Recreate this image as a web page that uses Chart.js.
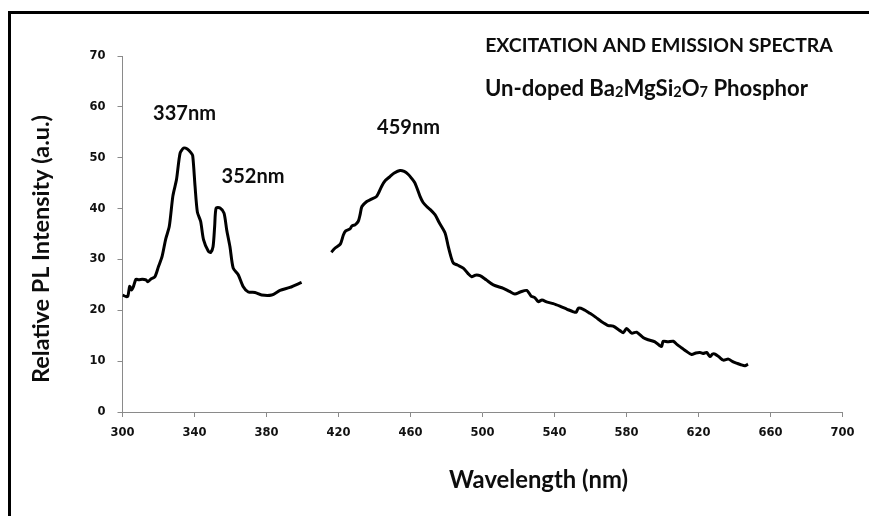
<!DOCTYPE html>
<html>
<head>
<meta charset="utf-8">
<script src="https://cdn.jsdelivr.net/npm/chart.js@4.4.1/dist/chart.umd.min.js"></script>
<style>
  html, body { margin: 0; padding: 0; background: #ffffff; }
  canvas { display: block; }
</style>
</head>
<body>
<canvas id="c" width="869" height="516"></canvas>
<script>
// ---- Data ----
const excitationWavelength = [300,302,303,304,305,306,307.5,309,311,313,314,316,318,320,322,324,326,328,330,332,334,336,338,339,340.3,341.6,343.4,345,347.7,349,350.3,351.2,352,354.2,356.4,357.9,359.7,361.5,364.3,367,369.9,373.6,377.3,382.9,387.5,393,399.5];
const excitationIntensity  = [23.0,22.7,22.8,24.7,24.0,24.6,26.1,26.0,26.1,26.0,25.6,26.2,26.6,28.6,30.6,34.0,36.5,42.5,45.7,50.9,51.9,51.7,51.0,50.4,44.4,39.3,37.5,33.9,31.6,31.4,32.5,36.5,40.1,40.1,39.1,35.8,32.5,28.3,27.0,24.7,23.6,23.5,23.0,23.0,23.9,24.5,25.5];

const emissionWavelength = [416,418,421,422.7,424,426.4,427.5,429.2,431,432,433,435.7,438,441.2,444,446,448.6,451,454.2,456.5,458.8,460.5,462.5,465.3,467,469,471,473.6,476,479.2,481,482.5,483.8,486,489.3,492,494,496,498.6,502,506,511.6,515,518,521,524.6,527,529,531,533,536,539.3,543,547,550.5,552,553.3,556,559.7,563,566,569.9,572.6,576.4,578.2,580,582.9,585.6,589.4,592,595.8,598.6,599.5,600.4,603,606,608,610.7,613,616.2,618.5,620.8,622.5,624.5,626.4,627.8,629.2,631.5,633.8,636.6,639,641.2,643.5,645.8,647.5];
const emissionIntensity  = [31.4,32.2,33.0,34.8,35.6,36.0,36.6,36.8,37.5,38.8,40.4,41.4,41.8,42.4,44.4,45.5,46.3,47.0,47.5,47.3,46.7,46.0,45.0,42.4,41.2,40.4,39.8,38.8,37.2,35.2,32.5,30.5,29.3,28.9,28.3,27.2,26.6,26.9,26.8,26.0,25.0,24.3,23.7,23.2,23.6,23.9,22.8,22.5,21.7,22.0,21.6,21.3,20.8,20.2,19.7,19.6,20.4,20.2,19.4,18.6,17.8,17.0,16.9,16.0,15.6,16.4,15.5,15.7,14.6,14.2,13.8,13.0,12.9,13.9,13.8,13.9,13.3,12.6,12.0,11.3,11.6,11.7,11.5,11.7,10.9,11.4,11.4,10.8,10.2,10.4,9.9,9.6,9.3,9.1,9.4];

const xTickValues = [300,340,380,420,460,500,540,580,620,660,700];
const yTickValues = [0,10,20,30,40,50,60,70];

const peakLabels = ["337nm", "352nm", "459nm"];
const titleText = "EXCITATION AND EMISSION SPECTRA";
const subtitleParts = [["Un-doped Ba", false], ["2", true], ["MgSi", false], ["2", true], ["O", false], ["7", true], [" Phosphor", false]];
const xTitle = "Wavelength (nm)";
const yTitle = "Relative PL Intensity (a.u.)";

function toPoints(xs, ys) { return xs.map((x, i) => ({ x: x, y: ys[i] })); }

const TEXT_FONT = "Lato, Carlito, 'Open Sans', sans-serif";

function fitText(ctx, text, targetW, baseSize) {
  ctx.font = "bold " + baseSize + "px " + TEXT_FONT;
  const w = ctx.measureText(text).width;
  const size = baseSize * targetW / w;
  ctx.font = "bold " + size.toFixed(2) + "px " + TEXT_FONT;
  return size;
}

const decorPlugin = {
  id: 'decor',
  beforeDraw(chart) {
    const ctx = chart.ctx;
    ctx.save();
    ctx.fillStyle = '#ffffff';
    ctx.fillRect(0, 0, chart.width, chart.height);
    ctx.restore();
  },
  afterDraw(chart) {
    const ctx = chart.ctx;
    ctx.save();
    // frame border (top and left)
    ctx.strokeStyle = '#000000';
    ctx.lineWidth = 3;
    ctx.beginPath();
    ctx.moveTo(9.5, 516);
    ctx.lineTo(9.5, 12.5);
    ctx.lineTo(869, 12.5);
    ctx.stroke();

    ctx.fillStyle = '#0d0d0d';
    ctx.textBaseline = 'middle';
    ctx.textAlign = 'center';

    // title
    fitText(ctx, titleText, 348, 16);
    ctx.fillText(titleText, 659, 46);

    // subtitle with subscripts
    const mainSize = 16, subSize = 10.5;
    let total = 0;
    subtitleParts.forEach(([t, sub]) => {
      ctx.font = "bold " + (sub ? subSize : mainSize) + "px " + TEXT_FONT;
      total += ctx.measureText(t).width;
    });
    const scale = 323 / total;
    let x = 485;
    ctx.textAlign = 'left';
    subtitleParts.forEach(([t, sub]) => {
      const s = (sub ? subSize : mainSize) * scale;
      ctx.font = "bold " + s.toFixed(2) + "px " + TEXT_FONT;
      ctx.fillText(t, x, sub ? 92 : 89);
      x += ctx.measureText(t).width;
    });

    // peak annotations
    ctx.textAlign = 'center';
    const peakPos = [[184.5, 114], [253, 177], [408.5, 128]];
    peakLabels.forEach((t, i) => {
      fitText(ctx, t, 63, 17);
      ctx.fillText(t, peakPos[i][0], peakPos[i][1]);
    });

    // axis titles
    fitText(ctx, xTitle, 179, 19);
    ctx.fillText(xTitle, 538.5, 480);

    ctx.translate(41, 249);
    ctx.rotate(-Math.PI / 2);
    fitText(ctx, yTitle, 268, 19);
    ctx.fillText(yTitle, 0, 0);
    ctx.restore();
  }
};

const AXIS_GRAY = '#8a8a8a';
const TICK_FONT = { family: "'DejaVu Sans', Verdana, sans-serif", size: 11.5, weight: 'bold' };

new Chart(document.getElementById('c'), {
  type: 'line',
  data: {
    datasets: [
      { label: 'Excitation', data: toPoints(excitationWavelength, excitationIntensity), borderColor: '#000000', borderWidth: 3, pointRadius: 0, tension: 0.25, fill: false },
      { label: 'Emission', data: toPoints(emissionWavelength, emissionIntensity), borderColor: '#000000', borderWidth: 3, pointRadius: 0, tension: 0.25, fill: false }
    ]
  },
  options: {
    responsive: false,
    animation: false,
    devicePixelRatio: 1,
    layout: { padding: { top: 56, right: 26.5, left: 0, bottom: 0 } },
    plugins: { legend: { display: false }, tooltip: { enabled: false }, title: { display: false } },
    scales: {
      x: {
        type: 'linear', min: 300, max: 700,
        afterBuildTicks: (s) => { s.ticks = xTickValues.map(v => ({ value: v })); },
        afterFit: (s) => { s.height = 104; },
        grid: { display: true, drawOnChartArea: false, drawTicks: true, tickLength: 5, color: AXIS_GRAY },
        border: { display: true, color: AXIS_GRAY, width: 1 },
        ticks: { color: '#111111', font: TICK_FONT, padding: 9, maxRotation: 0, autoSkip: false }
      },
      y: {
        type: 'linear', min: 0, max: 70,
        afterBuildTicks: (s) => { s.ticks = yTickValues.map(v => ({ value: v })); },
        afterFit: (s) => { s.width = 122.5; },
        grid: { display: true, drawOnChartArea: false, drawTicks: true, tickLength: 5, color: AXIS_GRAY },
        border: { display: true, color: AXIS_GRAY, width: 1 },
        ticks: { color: '#111111', font: TICK_FONT, padding: 12, autoSkip: false }
      }
    }
  },
  plugins: [decorPlugin]
});
</script>
</body>
</html>
